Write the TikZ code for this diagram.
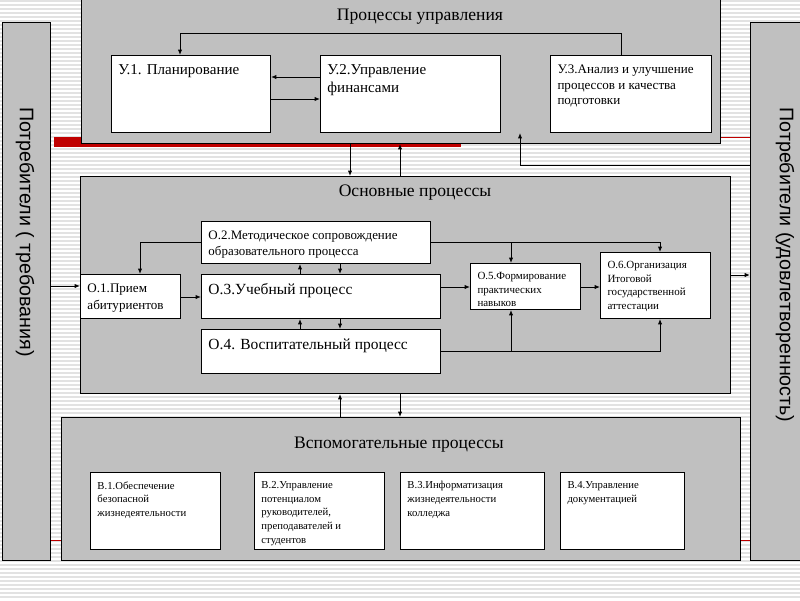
\documentclass[tikz,border=0pt]{standalone}
\usepackage{fontspec}
\setmainfont{Liberation Serif}
\newfontfamily\panelfont{Liberation Sans}
\usetikzlibrary{arrows.meta,positioning}
\newlength{\px}
\setlength{\px}{0.025cm}
\definecolor{silver}{RGB}{192,192,192}
\definecolor{barred}{RGB}{192,0,0}
\definecolor{stripe}{RGB}{226,226,226}
\newcommand{\boxtxt}[3]{\parbox[c][\dimexpr#2\px-18\px\relax][t]{\dimexpr#1\px-14\px\relax}{\raggedright #3}}

\begin{document}
\begin{tikzpicture}[x=0.025cm, y=-0.025cm,
	grp/.style={draw, fill=silver, anchor=north west, inner sep=0, line width=0.7pt},
	box/.style={draw, fill=white, anchor=north west, inner xsep=7\px, inner ysep=9\px, line width=0.7pt},
	ttl/.style={font=\fontsize{12.5}{14}\selectfont},
	pan/.style={font=\panelfont\fontsize{14}{16}\selectfont, rotate=-90},
	arr/.style={-{Latex[length=3.8pt,width=3pt]}, line width=0.6pt}]
	\clip (0,0) rectangle (800,600);
	\fill[white] (0,0) rectangle (800,600);
	\foreach \y in {1,5,...,600} \draw[stripe, line width=0.8pt] (0,\y) -- (800,\y);
	\fill[barred] (54,137) rectangle (461,147);
	\draw[barred, line width=0.6pt] (720,137) -- (750,137);
	\draw[barred, line width=0.6pt] (50,540) -- (61,540);
	\draw[barred, line width=0.6pt] (740,540) -- (750,540);
	% customers
	\node[grp, minimum width=48\px, minimum height=538\px] (lp) at (2,22) {};
	\node[grp, minimum width=52\px, minimum height=538\px] (rp) at (750,22) {};
	\node[pan] (lpt) at (25,232) {Потребители ( требования)};
	\node[pan] (rpt) at (785,265) {Потребители (удовлетворенность)};
	% management
	\node[grp, minimum width=639\px, minimum height=145\px] (upr) at (81,-2) {};
	\node[ttl] (uprt) at (420,17) {Процессы управления};
	\node[box, font=\fontsize{10.7}{13}\selectfont] (u1) at (111,55) {\boxtxt{159}{77}{У.1. Планирование}};
	\node[box, font=\fontsize{10.7}{13}\selectfont] (u2) at (320,55) {\boxtxt{180}{77}{У.2.Управление\\финансами}};
	\node[box, font=\fontsize{9.3}{11.3}\selectfont] (u3) at (550,55) {\boxtxt{161}{77}{У.3.Анализ и улучшение\\процессов и качества\\подготовки}};
	% main
	\node[grp, minimum width=650\px, minimum height=217\px] (osn) at (80,176) {};
	\node[ttl] (osnt) at (415,193) {Основные процессы};
	\node[box, font=\fontsize{9.3}{12}\selectfont] (o1) at (80,274) {\boxtxt{100}{44}{О.1.Прием\\абитуриентов}};
	\node[box, font=\fontsize{9.2}{12}\selectfont] (o2) at (201,221) {\boxtxt{229}{42}{О.2.Методическое сопровождение\\образовательного процесса}};
	\node[box, font=\fontsize{11}{13}\selectfont] (o3) at (201,274) {\boxtxt{239}{44}{О.3.Учебный процесс}};
	\node[box, font=\fontsize{11}{13}\selectfont] (o4) at (201,329) {\boxtxt{239}{44}{О.4. Воспитательный процесс}};
	\node[box, font=\fontsize{7.8}{9.6}\selectfont] (o5) at (470,263) {\boxtxt{110}{46}{О.5.Формирование\\практических\\навыков}};
	\node[box, font=\fontsize{7.8}{9.6}\selectfont] (o6) at (600,252) {\boxtxt{110}{66}{О.6.Организация\\Итоговой\\государственной\\аттестации}};
	% support
	\node[grp, minimum width=679\px, minimum height=143\px] (vsp) at (61,417) {};
	\node[ttl] (vspt) at (399,445) {Вспомогательные процессы};
	\node[box, font=\fontsize{7.6}{9.7}\selectfont] (b1) at (90,472) {\boxtxt{130}{77}{В.1.Обеспечение\\безопасной\\жизнедеятельности}};
	\node[box, font=\fontsize{7.6}{9.7}\selectfont] (b2) at (254,472) {\boxtxt{130}{77}{В.2.Управление\\потенциалом\\руководителей,\\преподавателей и\\студентов}};
	\node[box, font=\fontsize{7.6}{9.7}\selectfont] (b3) at (400,472) {\boxtxt{144}{77}{В.3.Информатизация\\жизнедеятельности\\колледжа}};
	\node[box, font=\fontsize{7.6}{9.7}\selectfont] (b4) at (560,472) {\boxtxt{124}{77}{В.4.Управление\\документацией}};
	% connectors
	\coordinate (fbr) at (621,33);
	\coordinate (fbl) at (180,33);
	\coordinate (fb) at (520,133);
	\coordinate (j1) at (511,242);
	\coordinate (j2) at (511,351);
	\draw[arr] (fbr |- u3.north) -- (fbr) -- (fbl) -- (fbl |- u1.north);
	\draw[arr] (u2.west |- 0,77) -- (u1.east |- 0,77);
	\draw[arr] (u1.east |- 0,99) -- (u2.west |- 0,99);
	\draw[arr] (upr.south -| 350,0) -- (osn.north -| 350,0);
	\draw[arr] (osn.north -| 400,0) -- (upr.south -| 400,0);
	\draw[arr] (rp.west |- 0,165) -| (fb);
	\draw[arr] (lp.east |- 0,286) -- (o1.west |- 0,286);
	\draw[arr] (o1.east |- 0,297) -- (o3.west |- 0,297);
	\draw[arr] (o3.east |- 0,287) -- (o5.west |- 0,287);
	\draw[arr] (o5.east |- 0,287) -- (o6.west |- 0,287);
	\draw[arr] (osn.east |- 0,275) -- (rp.west |- 0,275);
	\draw[arr] (o2.west |- 0,242) -| (o1.north -| 140,0);
	\draw[arr] (o2.east |- 0,242) -| (o6.north -| 660,0);
	\draw[arr] (j1) -- (o5.north -| j1);
	\draw[arr] (o3.north -| 300,0) -- (o2.south -| 300,0);
	\draw[arr] (o2.south -| 340,0) -- (o3.north -| 340,0);
	\draw[arr] (o4.north -| 300,0) -- (o3.south -| 300,0);
	\draw[arr] (o3.south -| 340,0) -- (o4.north -| 340,0);
	\draw[arr] (o4.east |- 0,351) -| (o6.south -| 660,0);
	\draw[arr] (j2) -- (o5.south -| j2);
	\draw[arr] (vsp.north -| 340,0) -- (osn.south -| 340,0);
	\draw[arr] (osn.south -| 400,0) -- (vsp.north -| 400,0);
\end{tikzpicture}
\end{document}
